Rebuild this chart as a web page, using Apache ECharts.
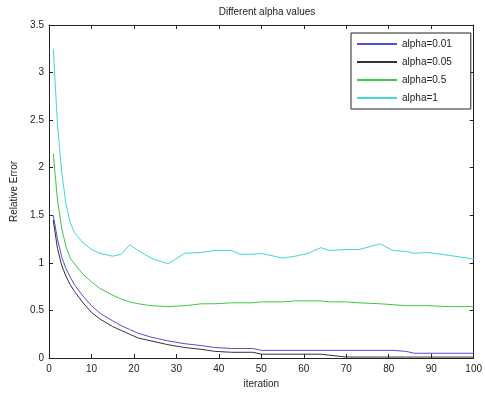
<!DOCTYPE html>
<html>
<head>
<meta charset="utf-8">
<script src="https://cdn.jsdelivr.net/npm/echarts@6/dist/echarts.min.js"></script>
<style>html,body{margin:0;padding:0;background:#fff;}#c{width:485px;height:398px;}</style>
</head>
<body>
<div id="c"></div>
<script>
const iterations = [1,2,3,4,5,6,8,10,12,15,17,19,21,24,28,32,36,39,43,45,48,50,55,58,61,64,66,70,73,78,81,84,86,89,94,100];
const alpha001 = [1.50,1.25,1.06,0.94,0.85,0.77,0.65,0.55,0.47,0.39,0.34,0.30,0.26,0.22,0.18,0.15,0.13,0.11,0.10,0.10,0.10,0.08,0.08,0.08,0.08,0.08,0.08,0.08,0.08,0.08,0.08,0.07,0.05,0.05,0.05,0.05];
const alpha005 = [1.45,1.15,0.97,0.86,0.77,0.70,0.58,0.48,0.41,0.33,0.29,0.25,0.21,0.18,0.14,0.11,0.09,0.07,0.06,0.06,0.06,0.04,0.04,0.04,0.04,0.04,0.03,0.01,0.01,0.01,0.01,0.01,0.01,0.01,0.01,0.01];
const alpha05 = [2.15,1.66,1.36,1.17,1.05,0.99,0.88,0.80,0.73,0.66,0.62,0.59,0.57,0.55,0.54,0.55,0.57,0.57,0.58,0.58,0.58,0.59,0.59,0.60,0.60,0.60,0.59,0.59,0.58,0.57,0.56,0.55,0.55,0.55,0.54,0.54];
const alpha1 = [3.25,2.45,1.95,1.62,1.42,1.32,1.21,1.14,1.10,1.07,1.09,1.19,1.13,1.05,0.99,1.10,1.11,1.13,1.13,1.09,1.09,1.10,1.05,1.07,1.10,1.16,1.13,1.14,1.14,1.20,1.13,1.12,1.10,1.11,1.08,1.04];
const seriesNames = ['alpha=0.01','alpha=0.05','alpha=0.5','alpha=1'];
const seriesColors = ['#5050d8','#333333','#3ec83e','#40d8d8'];
const xTicks = [0,10,20,30,40,50,60,70,80,90,100];
const yTicks = [0,0.5,1,1.5,2,2.5,3,3.5];

const seriesValues = [alpha001, alpha005, alpha05, alpha1];
const font = 'Liberation Sans, Arial, sans-serif';
const chart = echarts.init(document.getElementById('c'), null, {renderer:'canvas'});
function axisCommon(){
  return {
    axisLine:{show:true, onZero:false, lineStyle:{color:'#222', width:1}},
    axisTick:{show:true, inside:true, length:4, lineStyle:{color:'#222'}},
    splitLine:{show:false}
  };
}
chart.setOption({
  animation:false,
  backgroundColor:'#fff',
  title:{text:'Different alpha values', left:262, top:2, textAlign:'center',
    textStyle:{fontSize:10, fontWeight:'normal', color:'#222', fontFamily:font}},
  legend:{
    orient:'vertical', left:351, top:33,
    data:seriesNames,
    itemWidth:40, itemHeight:10, itemGap:8,
    itemStyle:{opacity:0},
    borderColor:'#222', borderWidth:1, backgroundColor:'#fff',
    padding:[6,19,6,5],
    textStyle:{fontSize:10, color:'#222', fontFamily:font}
  },
  grid:{left:49, right:11, top:25, bottom:40},
  xAxis:[
    Object.assign({type:'value', min:0, max:100, interval:10, position:'bottom',
      name:'iteration', nameLocation:'middle', nameGap:21,
      nameTextStyle:{fontSize:10, color:'#222', fontFamily:font},
      axisLabel:{fontSize:10, color:'#222', fontFamily:font, margin:6,
        formatter:function(v){return xTicks.indexOf(v)>=0 ? String(v) : '';}}}, axisCommon()),
    Object.assign({type:'value', min:0, max:100, interval:10, position:'top',
      axisLabel:{show:false}}, axisCommon())
  ],
  yAxis:[
    Object.assign({type:'value', min:0, max:3.5, interval:0.5, position:'left',
      name:'Relative Error', nameLocation:'middle', nameGap:30, nameRotate:90,
      nameTextStyle:{fontSize:10, color:'#222', fontFamily:font},
      axisLabel:{fontSize:10, color:'#222', fontFamily:font, margin:5,
        formatter:function(v){return yTicks.indexOf(v)>=0 ? String(v) : '';}}}, axisCommon()),
    Object.assign({type:'value', min:0, max:3.5, interval:0.5, position:'right',
      axisLabel:{show:false}}, axisCommon())
  ],
  series: seriesNames.map(function(n,i){
    return {
      name:n, type:'line', xAxisIndex:0, yAxisIndex:0,
      symbol:'none', smooth:false,
      lineStyle:{width:1, color:seriesColors[i]},
      itemStyle:{color:seriesColors[i]},
      data: iterations.map(function(x,j){return [x, seriesValues[i][j]];})
    };
  })
});
</script>
</body>
</html>
